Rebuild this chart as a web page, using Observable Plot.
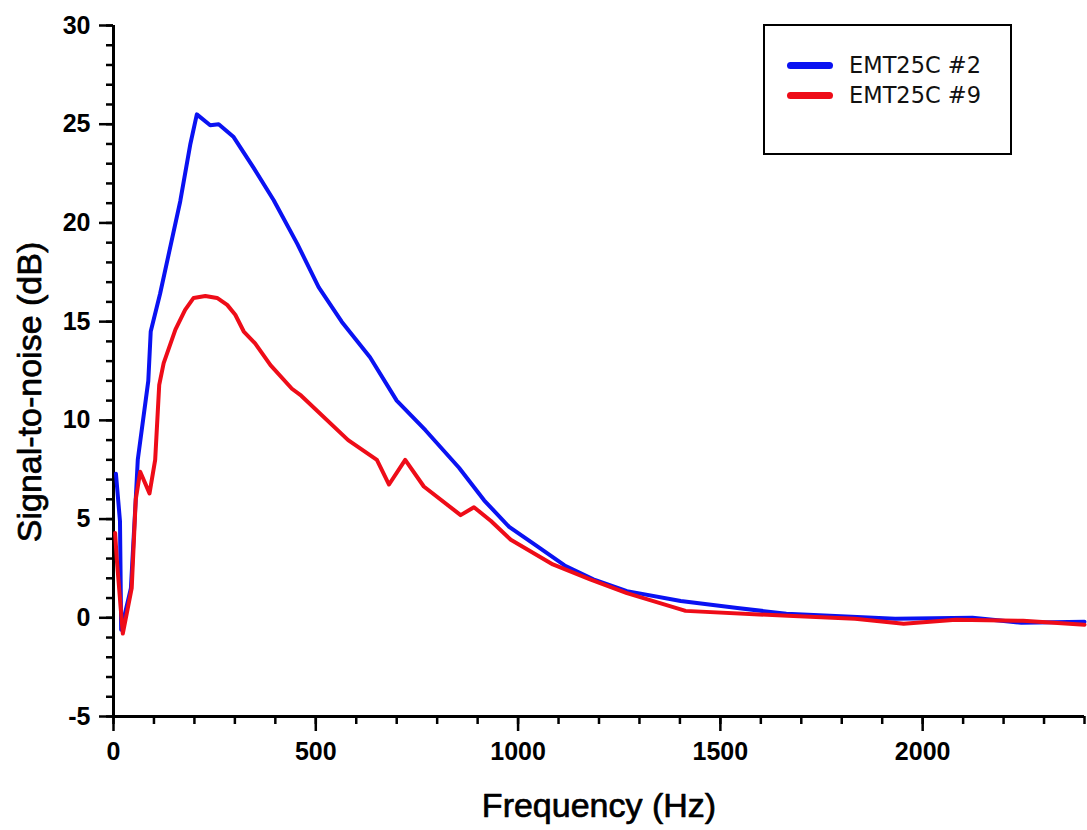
<!DOCTYPE html>
<html>
<head>
<meta charset="utf-8">
<script src="https://cdn.jsdelivr.net/npm/d3@7"></script>
<script src="https://cdn.jsdelivr.net/npm/@observablehq/plot@0.6"></script>
<style>
  body { margin: 0; background: #fff; }
  #wrap { position: relative; width: 1087px; height: 830px; overflow: hidden; }
  #legend {
    position: absolute; left: 763px; top: 24px; width: 245px; height: 127px;
    border: 2.5px solid #000; background: #fff;
    font-family: "DejaVu Sans", sans-serif; font-size: 22.5px; color: #111;
  }
  .item { position: absolute; left: 0; height: 30px; display: flex; align-items: center; }
  .swatch { width: 46px; height: 7px; border-radius: 4px; margin-left: 22px; margin-right: 16px; }
</style>
</head>
<body>
<div id="wrap"></div>
<script>
// Series names and colours
const seriesNames = ["EMT25C #2", "EMT25C #9"];
const seriesColors = ["#0a12f2", "#ee0c18"];

// EMT25C #2 (blue): frequency (Hz) and signal-to-noise (dB)
const blueFreq = [6, 16, 19, 43, 55, 60, 86, 92, 115, 165, 190, 206, 239, 260, 297, 346, 396, 454, 507, 564, 634, 700, 771, 854, 916, 978, 1045, 1115, 1186, 1269, 1402, 1542, 1663, 1932, 2123, 2244, 2400];
const blueSnr  = [7.3, 4.9, -0.6, 1.5, 6.0, 8.0, 12.0, 14.5, 16.4, 21.1, 24.0, 25.5, 24.95, 25.0, 24.35, 22.8, 21.15, 18.95, 16.75, 15.0, 13.2, 11.0, 9.5, 7.6, 5.95, 4.6, 3.65, 2.65, 1.95, 1.35, 0.85, 0.5, 0.2, -0.05, 0.0, -0.25, -0.2];

// EMT25C #9 (red)
const redFreq = [4, 8, 23, 45, 55, 66, 89, 103, 113, 124, 153, 177, 198, 227, 256, 281, 301, 322, 350, 388, 441, 464, 580, 651, 681, 721, 767, 858, 891, 933, 982, 1086, 1178, 1269, 1414, 1667, 1833, 1953, 2082, 2248, 2400];
const redSnr  = [4.3, 3.0, -0.8, 1.5, 6.0, 7.4, 6.3, 8.0, 11.8, 12.9, 14.6, 15.6, 16.2, 16.3, 16.2, 15.85, 15.35, 14.5, 13.9, 12.8, 11.6, 11.25, 9.0, 8.0, 6.75, 8.0, 6.65, 5.2, 5.6, 4.9, 3.95, 2.7, 1.95, 1.25, 0.35, 0.1, -0.05, -0.3, -0.1, -0.15, -0.35];

// Axis ticks
const xMajor = [0, 500, 1000, 1500, 2000];
const xMinor = d3.range(0, 2401, 100);
const yMajor = [-5, 0, 5, 10, 15, 20, 25, 30];
const yMinor = d3.range(-5, 31, 1);

const xTitle = "Frequency (Hz)";
const yTitle = "Signal-to-noise (dB)";

const blue = blueFreq.map((f, i) => ({f, v: blueSnr[i]}));
const red = redFreq.map((f, i) => ({f, v: redSnr[i]}));

const fmt = d => String(d);

const chart = Plot.plot({
  width: 1087,
  height: 830,
  marginLeft: 113,
  marginRight: 3,
  marginTop: 25,
  marginBottom: 114,
  x: {domain: [0, 2400], label: null},
  y: {domain: [-5, 30], label: null},
  style: {fontFamily: "'Liberation Sans', Arial, sans-serif", background: "white", color: "black", overflow: "visible"},
  marks: [
    Plot.axisY(yMinor, {tickSize: 7, strokeWidth: 2.5, tickFormat: () => "", label: null}),
    Plot.axisY(yMajor, {tickSize: 14, tickPadding: 9, strokeWidth: 2.5, fontSize: 25, fontWeight: "bold", tickFormat: fmt, label: null}),
    Plot.axisX(xMinor, {tickSize: 8, strokeWidth: 2.5, tickFormat: () => "", label: null}),
    Plot.axisX(xMajor, {tickSize: 15, tickPadding: 11, strokeWidth: 2.5, fontSize: 25, fontWeight: "bold", tickFormat: fmt, label: null}),
    Plot.ruleX([0], {strokeWidth: 3}),
    Plot.ruleY([-5], {strokeWidth: 3}),
    Plot.line(blue, {x: "f", y: "v", stroke: seriesColors[0], strokeWidth: 4, strokeLinejoin: "round"}),
    Plot.line(red, {x: "f", y: "v", stroke: seriesColors[1], strokeWidth: 4, strokeLinejoin: "round"}),
    Plot.text([yTitle], {frameAnchor: "left", textAnchor: "middle", lineAnchor: "middle", rotate: -90, dx: -83, dy: 21, fontSize: 34, stroke: "black", strokeWidth: 0.7, fill: "black"}),
    Plot.text([xTitle], {frameAnchor: "bottom", textAnchor: "middle", lineAnchor: "middle", dy: 90, fontSize: 34, stroke: "black", strokeWidth: 0.7, fill: "black"})
  ]
});

const wrap = document.getElementById("wrap");
wrap.appendChild(chart);

const legend = document.createElement("div");
legend.id = "legend";
seriesNames.forEach((name, i) => {
  const item = document.createElement("div");
  item.className = "item";
  item.style.top = (24 + i * 30) + "px";
  const sw = document.createElement("div");
  sw.className = "swatch";
  sw.style.background = seriesColors[i];
  const label = document.createElement("span");
  label.textContent = name;
  item.appendChild(sw);
  item.appendChild(label);
  legend.appendChild(item);
});
wrap.appendChild(legend);
</script>
</body>
</html>
